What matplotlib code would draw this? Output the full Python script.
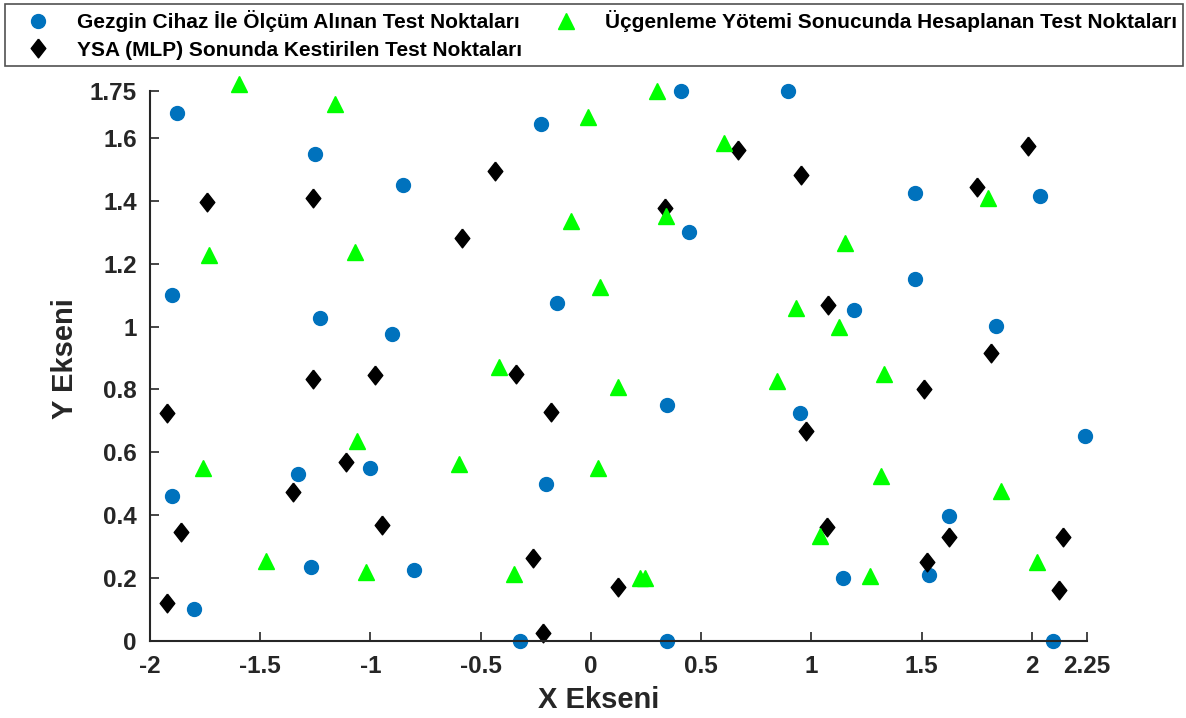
import matplotlib
matplotlib.use('Agg')
import matplotlib.pyplot as plt

plt.rcParams['font.family'] = ['Liberation Sans', 'DejaVu Sans']
plt.rcParams['font.weight'] = 'bold'

# Gezgin cihaz ile ölçülen noktalar
gezgin_x = [-1.876, -1.252, -0.854, -0.228, 0.410, 0.894, 0.445, -0.154, -1.228, -0.902,
            -1.902, -1.327, -1.003, -1.902, -0.204, -1.268, -0.804, -1.802, -0.324, 0.345,
            0.345, 1.471, 2.035, 1.195, 1.471, 1.838, 0.946, 2.243, 1.623, 1.534, 1.145, 2.094]
gezgin_y = [1.681, 1.550, 1.451, 1.646, 1.751, 1.751, 1.301, 1.076, 1.026, 0.975,
            1.101, 0.531, 0.551, 0.461, 0.500, 0.236, 0.226, 0.101, 0.0, 0.0,
            0.750, 1.426, 1.416, 1.052, 1.152, 1.001, 0.726, 0.651, 0.398, 0.210, 0.201, 0.0]

# YSA (MLP) kestirimleri
ysa_x = [-1.741, -1.261, -0.434, -0.584, 0.668, 0.952, 1.983, 1.750, 0.335, 1.074, 1.813,
         -1.261, -0.981, -0.339, -1.922, -0.182, -1.109, -1.353, -1.858, -0.946, -0.261,
         0.121, -1.925, -0.217, 1.511, 0.974, 1.071, 1.624, 2.139, 1.525, 2.125]
ysa_y = [1.396, 1.410, 1.496, 1.282, 1.561, 1.482, 1.576, 1.443, 1.379, 1.069, 0.917,
         0.833, 0.845, 0.849, 0.725, 0.727, 0.569, 0.472, 0.346, 0.369, 0.264,
         0.172, 0.119, 0.025, 0.800, 0.667, 0.363, 0.330, 0.330, 0.250, 0.162]

# Üçgenleme sonuçları
ucgen_x = [-1.597, -1.163, -0.014, 0.299, 0.603, -0.089, 0.339, -1.071, -1.734, 0.041,
           1.154, 0.931, 1.124, 1.330, -0.419, 0.122, 0.845, -1.060, -1.759, -0.599,
           0.030, 1.315, 1.861, 1.041, -1.476, -1.021, -0.347, 0.222, 0.243, 1.268, 2.023, 1.799]
ucgen_y = [1.771, 1.709, 1.668, 1.751, 1.585, 1.337, 1.353, 1.237, 1.227, 1.125,
           1.267, 1.059, 1.000, 0.849, 0.872, 0.809, 0.827, 0.636, 0.550, 0.562,
           0.549, 0.524, 0.478, 0.334, 0.253, 0.219, 0.213, 0.201, 0.199, 0.206, 0.252, 1.408]

xticks = [-2, -1.5, -1, -0.5, 0, 0.5, 1, 1.5, 2, 2.25]
xticklabels = ['-2', '-1.5', '-1', '-0.5', '0', '0.5', '1', '1.5', '2', '2.25']
yticks = [0, 0.2, 0.4, 0.6, 0.8, 1, 1.2, 1.4, 1.6, 1.75]
yticklabels = ['0', '0.2', '0.4', '0.6', '0.8', '1', '1.2', '1.4', '1.6', '1.75']

koyu = '#262626'
elmas = [(0, 1), (0.78, 0), (0, -1), (-0.78, 0), (0, 1)]

fig = plt.figure(figsize=(11.86, 7.18), dpi=100)
ax = fig.add_axes([150 / 1186, 1 - 640.7 / 718, 937 / 1186, 549.7 / 718])

ax.plot(gezgin_x, gezgin_y, 'o', color='#0072BD', markersize=10, clip_on=False,
        label='Gezgin Cihaz İle Ölçüm Alınan Test Noktaları')
ax.plot(ysa_x, ysa_y, linestyle='none', marker=elmas, color='black', markersize=13.5,
        clip_on=False, label='YSA (MLP) Sonunda Kestirilen Test Noktaları')
ax.plot(ucgen_x, ucgen_y, '^', color='#00FF00', markersize=11.5, clip_on=False,
        label='Üçgenleme Yötemi Sonucunda Hesaplanan Test Noktaları')

ax.set_xlim(-2, 2.25)
ax.set_ylim(0, 1.75)
ax.set_xticks(xticks)
ax.set_xticklabels(xticklabels)
ax.set_yticks(yticks)
ax.set_yticklabels(yticklabels)

for s in ['top', 'right']:
    ax.spines[s].set_visible(False)
for s in ['left', 'bottom']:
    ax.spines[s].set_linewidth(1.5)
    ax.spines[s].set_color(koyu)

ax.tick_params(axis='both', direction='in', length=6.5, width=1.2, colors=koyu,
               labelsize=17.5)
ax.tick_params(axis='x', pad=10.5)
ax.tick_params(axis='y', pad=9.4)

ax.set_xlabel('X Ekseni', fontsize=21, fontweight='bold', color=koyu)
ax.set_ylabel('Y Ekseni', fontsize=21, fontweight='bold', color=koyu)
ax.xaxis.set_label_coords(0.479, -0.0815)
ax.yaxis.set_label_coords(-0.0758, 0.514)

leg = fig.legend(loc='upper left', bbox_to_anchor=(5 / 1186, 1 - 4 / 718, 1178 / 1186, 0),
                 mode='expand', ncol=2, fontsize=15, frameon=True, fancybox=False,
                 handlelength=2.6, handletextpad=0.55, labelspacing=0.4,
                 borderpad=0.3, borderaxespad=0)
leg.get_frame().set_edgecolor(koyu)
leg.get_frame().set_linewidth(1.2)

plt.savefig('out.png', dpi=100)
